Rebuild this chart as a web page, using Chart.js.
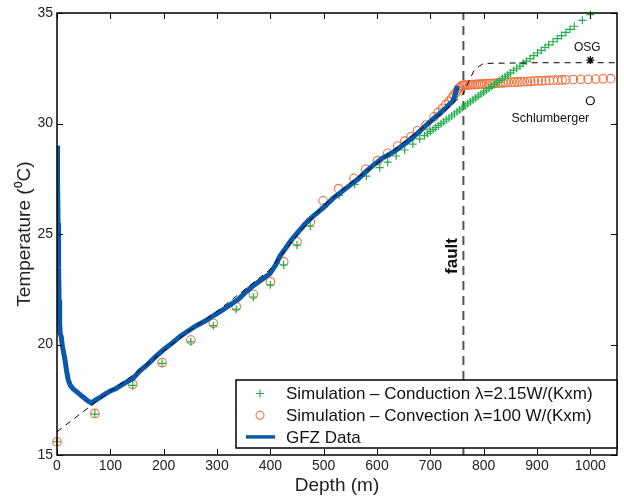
<!DOCTYPE html>
<html>
<head>
<meta charset="utf-8">
<script src="https://cdn.jsdelivr.net/npm/chart.js@4.4.1/dist/chart.umd.min.js"></script>
<style>
  body { margin: 0; background: #fff; }
  #c { display: block; }
</style>
</head>
<body>
<canvas id="c" width="624" height="500"></canvas>
<script>
"use strict"
// tick labels
const xTicks = [0, 100, 200, 300, 400, 500, 600, 700, 800, 900, 1000];
const yTicks = [15, 20, 25, 30, 35];

// GFZ log (depth m, temperature C)
const gfzDepth = [0.5, 1, 2, 3, 4, 5, 6, 8, 10, 12, 15, 18, 21, 25, 30, 35, 40, 45, 50, 55, 60, 65, 70, 80, 90, 100, 110, 120, 130, 142, 155, 170, 185, 199, 215, 230, 245, 261, 277, 293, 310, 325, 340, 355, 370, 385, 399, 410, 418, 430, 440, 449, 465, 480, 500, 517, 533, 549, 565, 580, 595, 611, 627, 642, 658, 673, 689, 705, 720, 735, 742, 745, 748, 751];
const gfzTemp = [29.0, 27.5, 25.5, 23.5, 22.0, 21.0, 20.5, 20.35, 19.95, 19.7, 19.3, 18.8, 18.4, 18.15, 18.0, 17.9, 17.8, 17.7, 17.6, 17.5, 17.42, 17.35, 17.45, 17.6, 17.75, 17.9, 18.0, 18.15, 18.3, 18.45, 18.8, 19.1, 19.45, 19.75, 20.05, 20.35, 20.6, 20.85, 21.05, 21.3, 21.55, 21.8, 22.05, 22.4, 22.7, 22.95, 23.2, 23.6, 24.0, 24.4, 24.75, 25.0, 25.45, 25.8, 26.2, 26.6, 26.9, 27.2, 27.5, 27.85, 28.15, 28.45, 28.65, 28.9, 29.2, 29.5, 29.85, 30.2, 30.5, 30.85, 31.0, 31.2, 31.45, 31.7];

// dashed reference profile
const dashDepth = [0, 70, 150, 200, 250, 300, 350, 400, 450, 500, 550, 600, 650, 700, 740, 762, 772, 782, 792, 800, 900, 1050];
const dashTemp = [16.05, 17.35, 18.75, 19.7, 20.65, 21.5, 22.45, 23.4, 24.95, 26.3, 27.3, 28.2, 29.15, 30.05, 30.85, 31.35, 31.9, 32.4, 32.6, 32.72, 32.75, 32.75];

// simulation - conduction
const condDepth = [0, 71, 142, 197, 251, 293, 336, 368, 400, 425, 450, 475, 500, 529, 558, 580, 605, 620, 636, 652, 667, 680, 689, 695, 700, 705, 710, 715, 720, 725, 730, 735, 740, 745, 750, 755, 760, 765, 770, 775, 780, 785, 790, 795, 800, 805, 810, 815, 820, 825, 830, 835, 840, 845, 850, 856, 862, 868, 874, 880, 887, 894, 901, 908, 915, 922, 930, 938, 946, 954, 962, 970, 985, 1000];
const condTemp = [15.6, 16.85, 18.15, 19.15, 20.12, 20.85, 21.6, 22.15, 22.7, 23.6, 24.5, 25.35, 26.23, 26.75, 27.25, 27.62, 28.0, 28.25, 28.53, 28.8, 29.07, 29.3, 29.45, 29.55, 29.64, 29.73, 29.82, 29.9, 29.99, 30.08, 30.17, 30.25, 30.34, 30.43, 30.53, 30.62, 30.71, 30.8, 30.89, 30.98, 31.07, 31.16, 31.24, 31.33, 31.42, 31.5, 31.59, 31.68, 31.77, 31.86, 31.95, 32.03, 32.12, 32.2, 32.29, 32.4, 32.5, 32.6, 32.71, 32.82, 32.94, 33.07, 33.19, 33.31, 33.44, 33.56, 33.7, 33.84, 33.98, 34.12, 34.26, 34.4, 34.67, 34.93];

// simulation - convection
const convDepth = [0, 71, 142, 197, 251, 293, 336, 368, 400, 425, 450, 475, 499, 528, 557, 579, 601, 620, 639, 652, 664, 676, 692, 707, 715, 723, 729, 735, 740, 744, 748, 751, 754, 757, 760, 763, 766, 770, 774, 778, 782, 786, 790, 794, 798, 802, 806, 811, 816, 821, 826, 831, 836, 841, 846, 852, 858, 864, 870, 876, 882, 888, 895, 902, 909, 916, 923, 931, 939, 947, 954, 968, 982, 996, 1010, 1024, 1038];
const convTemp = [15.6, 16.88, 18.2, 19.18, 20.2, 20.96, 21.71, 22.27, 22.84, 23.75, 24.65, 25.56, 26.5, 27.05, 27.52, 27.93, 28.32, 28.65, 28.98, 29.2, 29.4, 29.67, 29.93, 30.3, 30.5, 30.69, 30.85, 31.0, 31.15, 31.27, 31.4, 31.5, 31.6, 31.68, 31.72, 31.74, 31.74, 31.75, 31.75, 31.76, 31.76, 31.77, 31.77, 31.78, 31.78, 31.79, 31.8, 31.8, 31.81, 31.82, 31.83, 31.84, 31.84, 31.85, 31.86, 31.87, 31.87, 31.88, 31.89, 31.9, 31.9, 31.91, 31.92, 31.93, 31.93, 31.94, 31.95, 31.96, 31.96, 31.97, 31.98, 31.99, 32.0, 32.0, 32.01, 32.02, 32.03];

// single measurements + fault
const faultDepth = 762;
const osg = [1000, 32.87];
const schlumberger = [1000, 31.03];

const GREEN = '#22b04b';
const ORANGE = '#f0703c';
const BLUE = '#0a58a8';
const FONT = '"Liberation Sans", Arial, sans-serif';

function pts(xs, ys) {
    return xs.map((v, i) => ({x: v, y: ys[i]}));
}

// Rahmen mit innenliegenden Ticks, Legende und Beschriftungen
const extras = {
    id: 'extras',
    afterDraw(chart) {
        const ctx = chart.ctx;
        const a = chart.chartArea;
        const x = chart.scales.x, y = chart.scales.y;
        ctx.save();
        ctx.strokeStyle = '#000';
        ctx.lineWidth = 1;
        ctx.beginPath();
        xTicks.forEach(v => {
            const px = Math.round(x.getPixelForValue(v)) + 0.5;
            ctx.moveTo(px, a.bottom); ctx.lineTo(px, a.bottom - 6);
            ctx.moveTo(px, a.top); ctx.lineTo(px, a.top + 6);
        });
        yTicks.forEach(v => {
            const py = Math.round(y.getPixelForValue(v)) + 0.5;
            ctx.moveTo(a.left, py); ctx.lineTo(a.left + 6, py);
            ctx.moveTo(a.right, py); ctx.lineTo(a.right - 6, py);
        });
        ctx.stroke();
        ctx.lineWidth = 1.5;
        ctx.strokeRect(a.left, a.top, a.right - a.left, a.bottom - a.top);

        // Texte
        ctx.fillStyle = '#111';
        ctx.textAlign = 'center';
        ctx.textBaseline = 'middle';
        ctx.font = '12px ' + FONT;
        ctx.fillText('OSG', x.getPixelForValue(osg[0]) - 3, y.getPixelForValue(osg[1]) - 12);
        ctx.font = '12.5px ' + FONT;
        ctx.fillText('Schlumberger', x.getPixelForValue(schlumberger[0]) - 40, y.getPixelForValue(schlumberger[1]) + 18);
        ctx.save();
        ctx.translate(x.getPixelForValue(faultDepth) - 11, 256);
        ctx.rotate(-Math.PI / 2);
        ctx.font = 'bold 17px ' + FONT;
        ctx.fillText('fault', 0, 0);
        ctx.restore();

        // Legende
        const lx = 236, ly = 380, lw = 381, lh = 68;
        ctx.fillStyle = '#fff';
        ctx.fillRect(lx, ly, lw, lh);
        ctx.lineWidth = 1.5;
        ctx.strokeStyle = '#000';
        ctx.strokeRect(lx, ly, lw, lh);
        const ds = chart.data.datasets;
        ctx.textAlign = 'left';
        ctx.font = '17px ' + FONT;
        ctx.fillStyle = '#111';
        [0, 1, 2].forEach(i => {
            const ry = ly + 13.5 + i * 21.7;
            const mx = 260;
            ctx.strokeStyle = ds[i].borderColor;
            ctx.lineWidth = ds[i].borderWidth;
            ctx.beginPath();
            if (ds[i].pointStyle === 'cross') {
                ctx.moveTo(mx - 4, ry); ctx.lineTo(mx + 4, ry);
                ctx.moveTo(mx, ry - 4); ctx.lineTo(mx, ry + 4);
            } else if (ds[i].pointStyle === 'circle') {
                ctx.arc(mx, ry, 4, 0, Math.PI * 2);
            } else {
                ctx.lineWidth = 3.5;
                ctx.moveTo(246, ry); ctx.lineTo(275, ry);
            }
            ctx.stroke();
            ctx.fillText(ds[i].label, 286, ry + 1);
        });
        ctx.restore();
    }
};

const config = {
    type: 'scatter',
    data: {
        datasets: [{
            label: 'Simulation \u2013 Conduction \u03bb=2.15W/(Kxm)',
            data: pts(condDepth, condTemp),
            pointStyle: 'cross',
            pointRadius: 4,
            borderColor: GREEN,
            backgroundColor: GREEN,
            borderWidth: 1.2,
            showLine: false,
            clip: 8,
            order: 2
        }, {
            label: 'Simulation \u2013 Convection \u03bb=100 W/(Kxm)',
            data: pts(convDepth, convTemp),
            pointStyle: 'circle',
            pointRadius: 4.3,
            borderColor: ORANGE,
            backgroundColor: 'rgba(0,0,0,0)',
            borderWidth: 1.1,
            showLine: false,
            clip: 8,
            order: 3
        }, {
            label: 'GFZ Data',
            data: pts(gfzDepth, gfzTemp),
            showLine: true,
            borderColor: BLUE,
            borderWidth: 5,
            pointRadius: 0,
            order: 1
        }, {
            label: 'dashed',
            data: pts(dashDepth, dashTemp),
            showLine: true,
            borderColor: '#000',
            borderWidth: 1,
            borderDash: [6, 5],
            pointRadius: 0,
            order: 0
        }, {
            label: 'fault',
            data: [{x: faultDepth, y: yTicks[0]}, {x: faultDepth, y: yTicks[yTicks.length - 1]}],
            showLine: true,
            borderColor: '#555',
            borderWidth: 2,
            borderDash: [9, 6],
            pointRadius: 0,
            order: 4
        }, {
            label: 'OSG',
            data: [{x: osg[0], y: osg[1]}],
            pointStyle: 'star',
            pointRadius: 4,
            borderColor: '#000',
            borderWidth: 1.2,
            order: 0
        }, {
            label: 'Schlumberger',
            data: [{x: schlumberger[0], y: schlumberger[1]}],
            pointStyle: 'circle',
            pointRadius: 4,
            borderColor: '#000',
            backgroundColor: 'rgba(0,0,0,0)',
            borderWidth: 1.2,
            order: 0
        }]
    },
    options: {
        responsive: false,
        animation: false,
        devicePixelRatio: 1,
        layout: { padding: { left: 13, right: 7, top: 13, bottom: 3 } },
        plugins: { legend: { display: false }, tooltip: { enabled: false } },
        scales: {
            x: {
                type: 'linear',
                min: 0, max: 1050,
                afterBuildTicks: s => { s.ticks = xTicks.map(v => ({value: v})); },
                afterFit: s => { s.height = 42; },
                grid: { display: false, drawTicks: false },
                border: { display: false },
                ticks: { padding: 3, color: '#222', font: { family: FONT, size: 14 }, callback: v => String(v) },
                title: { display: true, text: 'Depth (m)', color: '#222', padding: 0, font: { family: FONT, size: 19 } }
            },
            y: {
                type: 'linear',
                min: 15, max: 35,
                afterBuildTicks: s => { s.ticks = yTicks.map(v => ({value: v})); },
                afterFit: s => { s.width = 44; },
                grid: { display: false, drawTicks: false },
                border: { display: false },
                ticks: { padding: 4, color: '#222', font: { family: FONT, size: 14 }, callback: v => String(v) },
                title: { display: true, text: 'Temperature (\u2070C)', color: '#222', padding: 0, font: { family: FONT, size: 19 } }
            }
        }
    },
    plugins: [extras]
};

new Chart(document.getElementById('c'), config);
</script>
</body>
</html>
